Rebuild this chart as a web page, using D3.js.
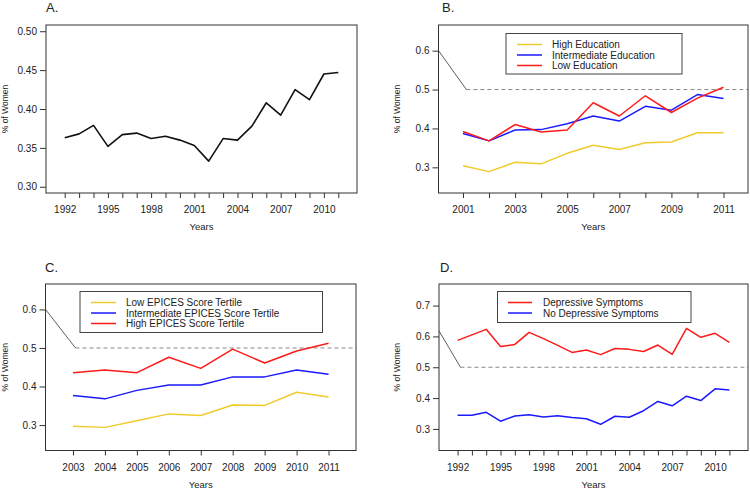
<!DOCTYPE html>
<html>
<head>
<meta charset="utf-8">
<script src="https://cdn.jsdelivr.net/npm/d3@7"></script>
<style>
  html, body { margin: 0; padding: 0; background: #fff; }
  svg { display: block; font-family: "Liberation Sans", Arial, Helvetica, sans-serif; }
</style>
</head>
<body>
<svg id="chart" width="750" height="489"></svg>
<script>
// ---------------- DATA ----------------
const yearsA = [1992,1993,1994,1995,1996,1997,1998,1999,2000,2001,2002,2003,2004,2005,2006,2007,2008,2009,2010,2011];
const allWomen = [0.363,0.368,0.379,0.352,0.367,0.369,0.362,0.365,0.360,0.353,0.333,0.362,0.360,0.378,0.408,0.392,0.425,0.412,0.445,0.447];
const xLabelsA = [1992,1995,1998,2001,2004,2007,2010];
const yTicksA = [0.30,0.35,0.40,0.45,0.50];

const yearsB = [2001,2002,2003,2004,2005,2006,2007,2008,2009,2010,2011];
const eduHigh  = [0.304,0.289,0.313,0.309,0.336,0.357,0.346,0.363,0.365,0.389,0.389];
const eduInter = [0.387,0.368,0.396,0.397,0.412,0.432,0.419,0.457,0.447,0.487,0.477];
const eduLow   = [0.392,0.368,0.410,0.391,0.396,0.466,0.432,0.484,0.441,0.478,0.506];
const xLabelsB = [2001,2003,2005,2007,2009,2011];
const yTicksB = [0.3,0.4,0.5,0.6];
const legendB = ["High Education","Intermediate Education","Low Education"];

const yearsC = [2003,2004,2005,2006,2007,2008,2009,2010,2011];
const epicesLow   = [0.297,0.294,0.311,0.329,0.325,0.352,0.351,0.385,0.373];
const epicesInter = [0.377,0.368,0.390,0.404,0.404,0.425,0.425,0.443,0.432];
const epicesHigh  = [0.436,0.443,0.436,0.476,0.447,0.497,0.461,0.492,0.512];
const xLabelsC = [2003,2004,2005,2006,2007,2008,2009,2010,2011];
const yTicksC = [0.3,0.4,0.5,0.6];
const legendC = ["Low EPICES Score Tertile","Intermediate EPICES Score Tertile","High EPICES Score Tertile"];

const yearsD = [1992,1993,1994,1995,1996,1997,1998,1999,2000,2001,2002,2003,2004,2005,2006,2007,2008,2009,2010,2011];
const depYes = [0.587,0.605,0.623,0.567,0.574,0.613,0.593,0.571,0.548,0.556,0.541,0.561,0.558,0.551,0.572,0.542,0.626,0.597,0.610,0.581];
const depNo  = [0.344,0.344,0.354,0.325,0.342,0.346,0.339,0.343,0.337,0.333,0.315,0.341,0.338,0.359,0.389,0.375,0.406,0.392,0.430,0.426];
const xLabelsD = [1992,1995,1998,2001,2004,2007,2010];
const yTicksD = [0.3,0.4,0.5,0.6,0.7];
const legendD = ["Depressive Symptoms","No Depressive Symptoms"];

// reference line (0.5) and its pointer segment, in data units
const refLevel = 0.5;
const pointerB = [[2000.06, 0.6], [2001.13, 0.5]];
const pointerC = [[2002.14, 0.6], [2003.08, 0.5]];
const pointerD = [[1990.70, 0.618], [1992.20, 0.5]];

// ---------------- STYLE ----------------
const YELLOW = "#f0cb2c", BLUE = "#1a1aff", RED = "#ff1a1a", BLACK = "#111";
const AXIS = "#333", TEXT = "#222";

const svg = d3.select("#chart");

function panel(cfg) {
  const g = svg.append("g");
  const x = d3.scaleLinear().domain(cfg.xDomain).range([cfg.box.l, cfg.box.r]);
  const y = d3.scaleLinear().domain(cfg.yDomain).range([cfg.box.b, cfg.box.t]);

  // title
  g.append("text").attr("x", cfg.title.x).attr("y", cfg.title.y)
    .attr("font-size", 13).attr("fill", TEXT).text(cfg.title.text);

  // y axis
  const yAx = g.append("g").attr("transform", `translate(${cfg.box.l},0)`)
    .call(d3.axisLeft(y).tickValues(cfg.yTicks).tickSize(6).tickPadding(3)
      .tickFormat(d3.format(cfg.yFmt)));
  yAx.select(".domain").remove();
  yAx.selectAll("line").attr("stroke", AXIS);
  yAx.selectAll("text").attr("font-size", 10).attr("fill", TEXT).attr("font-family", null);

  // x axis
  const xAx = g.append("g").attr("transform", `translate(0,${cfg.box.b})`)
    .call(d3.axisBottom(x).tickValues(cfg.years).tickSize(5).tickPadding(8)
      .tickFormat(d => cfg.xLabels.includes(d) ? d : ""));
  xAx.select(".domain").remove();
  xAx.selectAll("line").attr("stroke", AXIS);
  xAx.selectAll("text").attr("font-size", 10).attr("fill", TEXT).attr("font-family", null);

  // axis titles
  g.append("text").attr("x", (cfg.box.l + cfg.box.r) / 2).attr("y", cfg.box.b + 37)
    .attr("text-anchor", "middle").attr("font-size", 9.5).attr("fill", TEXT).text("Years");
  g.append("text")
    .attr("transform", `translate(${cfg.yLabelX},${(cfg.box.t + cfg.box.b) / 2}) rotate(-90)`)
    .attr("text-anchor", "middle").attr("font-size", 8.5).attr("fill", TEXT).text("% of Women");

  // reference line + pointer
  if (cfg.pointer) {
    g.append("line")
      .attr("x1", x(cfg.pointer[1][0])).attr("x2", cfg.box.r)
      .attr("y1", y(refLevel)).attr("y2", y(refLevel))
      .attr("stroke", "#888").attr("stroke-width", 1).attr("stroke-dasharray", "4,3");
    g.append("line")
      .attr("x1", x(cfg.pointer[0][0])).attr("y1", y(cfg.pointer[0][1]))
      .attr("x2", x(cfg.pointer[1][0])).attr("y2", y(cfg.pointer[1][1]))
      .attr("stroke", "#333").attr("stroke-width", 0.8);
  }

  // series
  const line = d3.line().x(d => x(d[0])).y(d => y(d[1]));
  cfg.series.forEach(s => {
    g.append("path").datum(cfg.years.map((yr, i) => [yr, s.values[i]]))
      .attr("d", line).attr("fill", "none").attr("stroke", s.color)
      .attr("stroke-width", s.width || 1.5).attr("stroke-linejoin", "round");
  });

  // box
  g.append("rect").attr("x", cfg.box.l).attr("y", cfg.box.t)
    .attr("width", cfg.box.r - cfg.box.l).attr("height", cfg.box.b - cfg.box.t)
    .attr("fill", "none").attr("stroke", AXIS).attr("stroke-width", 1);

  // legend
  if (cfg.legend) {
    const L = cfg.legend;
    g.append("rect").attr("x", L.x0).attr("y", L.y0).attr("width", L.x1 - L.x0).attr("height", L.y1 - L.y0)
      .attr("fill", "#fff").attr("stroke", "#444").attr("stroke-width", 1);
    L.items.forEach((it, i) => {
      const yy = L.rowY[i];
      g.append("line").attr("x1", L.lx0).attr("x2", L.lx1).attr("y1", yy).attr("y2", yy)
        .attr("stroke", it.color).attr("stroke-width", 1.5);
      g.append("text").attr("x", L.tx).attr("y", yy).attr("dy", "0.35em")
        .attr("font-size", 10).attr("fill", TEXT).text(it.label);
    });
  }
}

panel({
  title: {text: "A.", x: 46, y: 12},
  box: {l: 46, r: 357, t: 25, b: 193},
  xDomain: [1990.7, 2012.3], yDomain: [0.292, 0.508],
  years: yearsA, xLabels: xLabelsA, yTicks: yTicksA, yFmt: ".2f", yLabelX: 8,
  series: [{values: allWomen, color: BLACK, width: 1.6}]
});

panel({
  title: {text: "B.", x: 442, y: 12},
  box: {l: 438.5, r: 748, t: 25, b: 193},
  xDomain: [2000.06, 2011.94], yDomain: [0.234, 0.666],
  years: yearsB, xLabels: xLabelsB, yTicks: yTicksB, yFmt: ".1f", yLabelX: 400,
  pointer: pointerB,
  series: [{values: eduHigh, color: YELLOW}, {values: eduInter, color: BLUE}, {values: eduLow, color: RED}],
  legend: {x0: 506, y0: 33.5, x1: 682, y1: 74, lx0: 517, lx1: 542, tx: 552, rowY: [44.5, 55, 65.5],
    items: [{label: legendB[0], color: YELLOW}, {label: legendB[1], color: BLUE}, {label: legendB[2], color: RED}]}
});

panel({
  title: {text: "C.", x: 45, y: 272},
  box: {l: 45.5, r: 356, t: 284, b: 450.5},
  xDomain: [2002.14, 2011.86], yDomain: [0.234, 0.666],
  years: yearsC, xLabels: xLabelsC, yTicks: yTicksC, yFmt: ".1f", yLabelX: 8,
  pointer: pointerC,
  series: [{values: epicesLow, color: YELLOW}, {values: epicesInter, color: BLUE}, {values: epicesHigh, color: RED}],
  legend: {x0: 80, y0: 291.5, x1: 322.5, y1: 332.5, lx0: 91, lx1: 116, tx: 126, rowY: [302.5, 313, 323.5],
    items: [{label: legendC[0], color: YELLOW}, {label: legendC[1], color: BLUE}, {label: legendC[2], color: RED}]}
});

panel({
  title: {text: "D.", x: 440, y: 272},
  box: {l: 439, r: 748, t: 284, b: 450.5},
  xDomain: [1990.7, 2012.3], yDomain: [0.23, 0.77],
  years: yearsD, xLabels: xLabelsD, yTicks: yTicksD, yFmt: ".1f", yLabelX: 400,
  pointer: pointerD,
  series: [{values: depYes, color: RED}, {values: depNo, color: BLUE}],
  legend: {x0: 497.5, y0: 291.5, x1: 691, y1: 322.5, lx0: 508, lx1: 532, tx: 543, rowY: [302.5, 313],
    items: [{label: legendD[0], color: RED}, {label: legendD[1], color: BLUE}]}
});
</script>
</body>
</html>
